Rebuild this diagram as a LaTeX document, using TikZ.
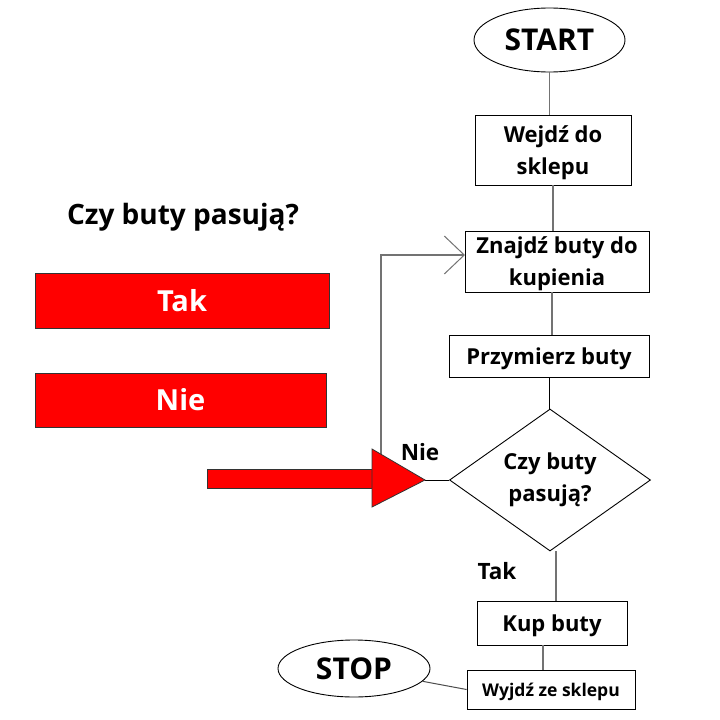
\documentclass[tikz,border=0pt]{standalone}
\usepackage{fontspec}
\setmainfont{Open Sans}
\usetikzlibrary{shapes.geometric,arrows.meta}
\tikzset{
  box/.style={draw=black, line width=0.9pt, fill=white, font=\bfseries\fontsize{22}{32}\selectfont, align=center, inner sep=0pt, text depth=-1pt},
  oval/.style={ellipse, draw=black, line width=0.9pt, fill=white, font=\bfseries\fontsize{30}{34}\selectfont, inner sep=0pt},
  conn/.style={draw=black!55, line width=1.3pt},
  redbox/.style={draw=black!80, line width=0.8pt, fill=red, text=white, font=\bfseries\fontsize{29}{32}\selectfont, inner sep=0pt},
  lbl/.style={font=\bfseries\fontsize{22.5}{26}\selectfont, inner sep=0pt},
}
\begin{document}
\begin{tikzpicture}[x=1pt,y=-1pt]
\useasboundingbox[fill=white] (0,0) rectangle (720,720);
% flowchart nodes
\node[oval, minimum width=151pt, minimum height=64pt] (start) at (549.5,40) {START};
\node[box, minimum width=156pt, minimum height=70pt] (wejdz) at (553,150) {Wejdź do\\sklepu};
\node[box, minimum width=184pt, minimum height=61pt] (znajdz) at (557,261.5) {Znajdź buty do\\kupienia};
\node[box, minimum width=200pt, minimum height=42pt] (przym) at (549,356) {Przymierz buty};
\node[diamond, draw=black, line width=0.9pt, aspect=1.41, minimum width=201pt, minimum height=142pt, inner sep=0pt, font=\bfseries\fontsize{22}{32}\selectfont, align=center] (dia) at (550,480) {Czy buty\\pasują?};
\node[box, minimum width=150pt, minimum height=44pt] (kup) at (552,623) {Kup buty};
\node[box, minimum width=168pt, minimum height=39pt, font=\bfseries\fontsize{17.5}{20}\selectfont] (wyjdz) at (551,689.5) {Wyjdź ze sklepu};
\node[oval, minimum width=152pt, minimum height=57pt] (stop) at (354,668.5) {STOP};
% labels
\node[lbl] (nie) at (420,452) {Nie};
\node[lbl] (takl) at (497,571) {Tak};
% connectors
\draw[conn] (start.south) -- (start.south |- wejdz.north);
\draw[conn] (wejdz.south) -- (wejdz.south |- znajdz.north);
\draw[conn] ([xshift=-5pt]znajdz.south) -- ([xshift=-5pt]znajdz.south |- przym.north);
\draw[conn, draw=black, line width=0.9pt] (przym.south) -- (przym.south |- dia.north);
\draw[conn] ([xshift=6pt]dia.south) -- ([xshift=6pt]dia.south |- kup.north);
\draw[conn] ([xshift=-9pt]kup.south) -- ([xshift=-9pt]kup.south |- wyjdz.north);
\draw[conn, draw=black!70, line width=1pt] (stop) -- (wyjdz.west);
\coordinate (loopstart) at (381,470);
\coordinate (looptip) at (465,255);
\draw[conn, -{Straight Barb[length=20pt, width=38pt, line width=1pt]}] (loopstart) |- (looptip);
\coordinate (arrowtip) at (425,480);
\draw[draw=black, line width=0.9pt] (arrowtip) -- (dia.west);
% red arrow
\draw[draw=black!80, line width=0.8pt, fill=red] (207,469) rectangle (373,488);
\draw[draw=black!80, line width=0.8pt, fill=red] (372,449) -- (arrowtip) -- (372,507) -- cycle;
% left panel
\node[font=\bfseries\fontsize{28}{32}\selectfont, inner sep=0pt] (title) at (183,217) {Czy buty pasują?};
\node[redbox, minimum width=294pt, minimum height=55pt] (tak) at (182,300.5) {Tak};
\node[redbox, minimum width=291pt, minimum height=54pt] (nieb) at (180.5,400) {Nie};
\end{tikzpicture}
\end{document}
